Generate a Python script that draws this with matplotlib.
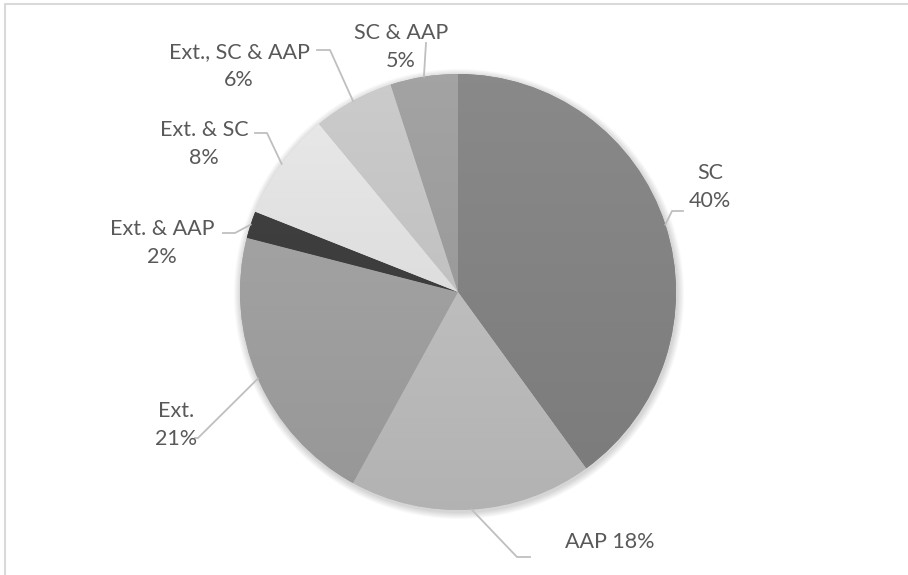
import numpy as np
import matplotlib
matplotlib.use('Agg')
import matplotlib.pyplot as plt
from matplotlib.patches import Circle

# data
categories = ['SC', 'AAP', 'Ext.', 'Ext. & AAP', 'Ext. & SC', 'Ext., SC & AAP', 'SC & AAP']
shares = [40, 18, 21, 2, 8, 6, 5]
colors = ['#848484', '#c0c0c0', '#a2a2a2', '#3e3e3e', '#e1e1e1', '#c4c4c4', '#9d9d9d']

# label layout in pixel coords: (text x, text y, elbow, end) ; y measured from top
label_pos = {
    'SC':             ((710, 187), (672, 211), (683, 211)),
    'AAP':            ((610, 542), (517, 557), (530, 557)),
    'Ext.':           ((176, 425), (198, 438), (195, 438)),
    'Ext. & AAP':     ((162, 243), (235, 233), (223, 233)),
    'Ext. & SC':      ((204, 144), (267, 133), (255, 133)),
    'Ext., SC & AAP': ((239, 66), (330, 50), (317, 50)),
    'SC & AAP':       ((401, 47), (426, 43), (426, 43)),
}

W, H = 908, 575
cx, cy, r = 458, H - 292, 218

plt.rcParams['font.family'] = ['Lato', 'DejaVu Sans']
fig = plt.figure(figsize=(W / 100, H / 100), dpi=100)
ax = fig.add_axes([0, 0, 1, 1])

# chart border (only top and left visible in the crop)
ax.plot([5, 5, W + 5], [-5, H - 4, H - 4], color='#d9d9d9', lw=1.5, zorder=0)

# soft shadow
for k in range(7, 0, -1):
    ax.add_patch(Circle((cx + 1, cy - 2), r + k, color='black', alpha=0.025, lw=0, zorder=1))

wedges, _ = ax.pie(shares, colors=colors, startangle=90, counterclock=False,
                   center=(cx, cy), radius=r, wedgeprops=dict(lw=0))
for w in wedges:
    w.set_zorder(2)

# slight vertical gradient on each slice
ys = np.linspace(0, 1, 200)[:, None]
for w, c in zip(wedges, colors):
    base = np.array(matplotlib.colors.to_rgb(c))
    top = np.clip(base * 1.04, 0, 1)
    bot = base * 0.93
    grad = bot[None, None, :] + (top - bot)[None, None, :] * ys[:, :, None]
    grad = np.repeat(grad, 2, axis=1)
    im = ax.imshow(grad, extent=[cx - r, cx + r, cy - r, cy + r], origin='lower',
                   interpolation='bilinear', zorder=3, aspect='auto')
    im.set_clip_path(w)

# labels and leader lines
total = sum(shares)
cum = 0
for cat, s in zip(categories, shares):
    mid = 90 - 360 * (cum + s / 2) / total
    cum += s
    ex = cx + r * np.cos(np.radians(mid))
    ey = cy + r * np.sin(np.radians(mid))
    (tx, ty), (bx, by), (fx, fy) = label_pos[cat]
    ax.plot([ex, bx, fx], [ey, H - by, H - fy], color='#bfbfbf', lw=1.3, zorder=4)
    if cat == 'AAP':
        txt = f'{cat} {s}%'
    else:
        txt = f'{cat}\n{s}%'
    ax.text(tx, H - ty, txt, ha='center', va='center', fontsize=15.5,
            color='#595959', linespacing=1.5, zorder=5)

ax.set_xlim(0, W)
ax.set_ylim(0, H)
ax.set_aspect('auto')
ax.axis('off')

fig.savefig('out.png', dpi=100)
